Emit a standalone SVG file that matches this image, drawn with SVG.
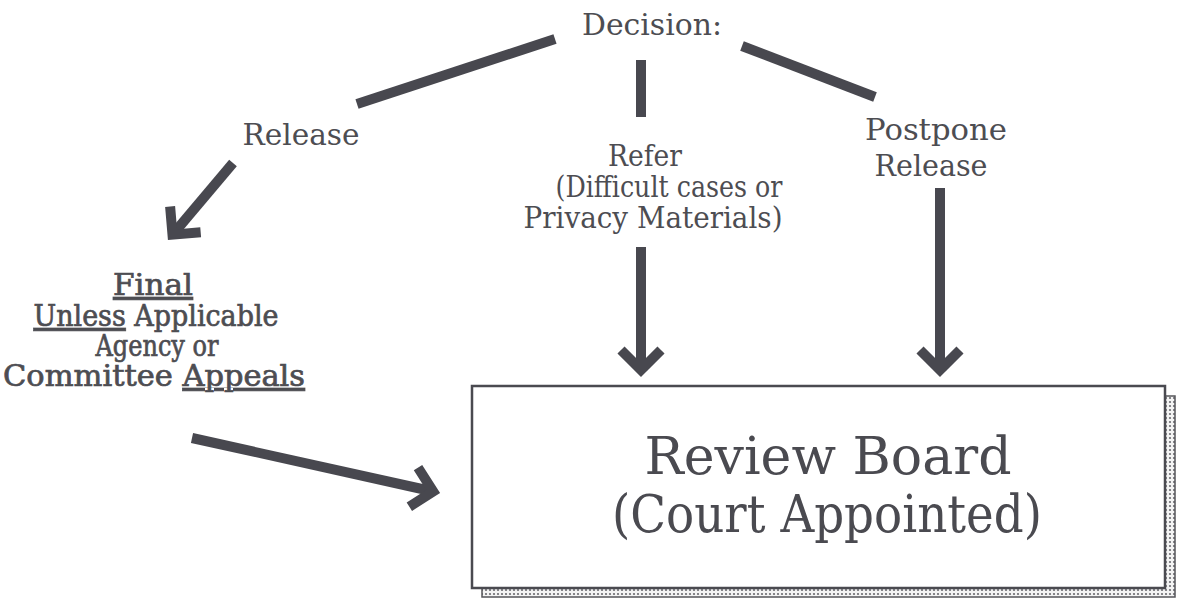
<svg xmlns="http://www.w3.org/2000/svg" width="1180" height="599" viewBox="0 0 1180 599">
<style>
  .lbl { font-family: "DejaVu Serif", "Liberation Serif", serif; font-size: 29px; fill: #4d4d52; text-anchor: middle; }
  .lft { stroke: #4d4d52; stroke-width: 0.7px; }
  .big { font-family: "DejaVu Serif", "Liberation Serif", serif; font-size: 52px; fill: #4a4a50; text-anchor: middle; }
  .ln { stroke: #48484f; stroke-width: 10; fill: none; stroke-linecap: butt; }
  .u { text-decoration: underline; }
</style>
<defs>
  <marker id="chev" markerUnits="userSpaceOnUse" markerWidth="60" markerHeight="60" viewBox="-30 -30 60 60" refX="0" refY="0" orient="auto" overflow="visible">
    <path d="M-20,-20 L0,0 L-20,20" fill="none" stroke="#48484f" stroke-width="10" stroke-linejoin="miter"/>
  </marker>
  <pattern id="dots" width="4" height="4" patternUnits="userSpaceOnUse">
    <rect width="4" height="4" fill="#f4f4f4"/>
    <circle cx="2" cy="2" r="1.1" fill="#6a6a70"/>
  </pattern>
</defs>
<rect width="1180" height="599" fill="#ffffff"/>

<g id="connectors">
  <line class="ln" x1="555" y1="39" x2="357" y2="104"/>
  <line class="ln" x1="742" y1="46" x2="875" y2="97"/>
  <line class="ln" x1="641" y1="60" x2="641" y2="117"/>
  <line class="ln" x1="233" y1="163" x2="172.5" y2="234.7" marker-end="url(#chev)"/>
  <line class="ln" x1="641" y1="247" x2="641" y2="370" marker-end="url(#chev)"/>
  <line class="ln" x1="940" y1="188" x2="940" y2="370" marker-end="url(#chev)"/>
  <line class="ln" x1="192" y1="438" x2="433.2" y2="491.5" marker-end="url(#chev)"/>
</g>

<g id="decision">
  <text class="lbl" x="652" y="35" textLength="140" lengthAdjust="spacingAndGlyphs">Decision:</text>
</g>
<g id="release">
  <text class="lbl" x="301" y="145" textLength="117" lengthAdjust="spacingAndGlyphs">Release</text>
</g>
<g id="refer">
  <text class="lbl" x="645" y="166" textLength="74" lengthAdjust="spacingAndGlyphs">Refer</text>
  <text class="lbl" x="669" y="197" textLength="227" lengthAdjust="spacingAndGlyphs">(Difficult cases or</text>
  <text class="lbl" x="653" y="228" textLength="259" lengthAdjust="spacingAndGlyphs">Privacy Materials)</text>
</g>
<g id="postpone">
  <text class="lbl" x="936" y="140" textLength="142" lengthAdjust="spacingAndGlyphs">Postpone</text>
  <text class="lbl" x="931" y="176" textLength="113" lengthAdjust="spacingAndGlyphs">Release</text>
</g>
<g id="final">
  <text class="lbl lft" x="153" y="295" textLength="80" lengthAdjust="spacingAndGlyphs"><tspan class="u">Final</tspan></text>
  <text class="lbl lft" x="156" y="326" textLength="245" lengthAdjust="spacingAndGlyphs"><tspan class="u">Unless</tspan> Applicable</text>
  <text class="lbl lft" x="157" y="356" textLength="123" lengthAdjust="spacingAndGlyphs">Agency or</text>
  <text class="lbl lft" x="154" y="386" textLength="302" lengthAdjust="spacingAndGlyphs">Committee <tspan class="u">Appeals</tspan></text>
</g>
<g id="review-board">
  <rect x="482" y="396" width="693" height="201" fill="url(#dots)" stroke="#55555a" stroke-width="1.5"/>
  <rect x="472" y="386" width="693" height="202" fill="#ffffff" stroke="#4a4a50" stroke-width="2.5"/>
  <text class="big" x="828" y="474" textLength="367" lengthAdjust="spacingAndGlyphs">Review Board</text>
  <text class="big" x="827" y="532" textLength="430" lengthAdjust="spacingAndGlyphs">(Court Appointed)</text>
</g>
</svg>
